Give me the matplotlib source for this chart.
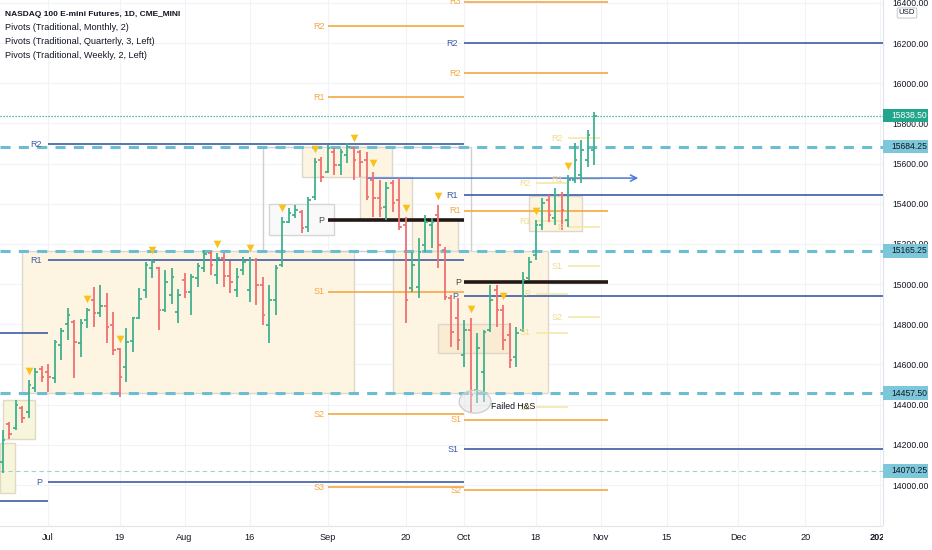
import numpy as np
import matplotlib.pyplot as plt
from matplotlib.patches import Rectangle, Ellipse
from matplotlib.transforms import blended_transform_factory

plt.rcParams['font.family'] = ['Liberation Sans', 'DejaVu Sans']

# daily bars, x = trading day index (0 = 1 Jul 2021)
bar_idx = np.arange(-7, 85)
opens = [14114, 14304, 14284, 14383, 14363, 14483, 14577, 14562, 14533, 14697,
         14801, 14811, 14707, 14821, 14921, 14856, 14891, 14796, 14677, 14587,
         14717, 14831, 14970, 15080, 15080, 14871, 14946, 14861, 15020, 14961,
         15030, 15080, 15155, 15045, 15130, 15040, 14970, 15070, 14970, 15120,
         14995, 14796, 14921, 15095, 15309, 15344, 15359, 15284, 15433, 15618,
         15558, 15657, 15593, 15642, 15677, 15657, 15618, 15518, 15428, 15384,
         15503, 15418, 15294, 14980, 14985, 15194, 15294, 15344, 15170, 14931,
         14831, 14647, 14771, 14473, 14562, 14771, 14970, 14871, 14747, 14637,
         14771, 15030, 15145, 15294, 15418, 15329, 15443, 15319, 15518, 15543,
         15618, 15667]
highs = [14274, 14314, 14423, 14393, 14523, 14582, 14592, 14602, 14722, 14781,
         14881, 14821, 14826, 14881, 14985, 14995, 14956, 14861, 14682, 14781,
         14836, 14980, 15110, 15125, 15085, 15070, 15080, 14976, 15055, 15050,
         15105, 15170, 15165, 15155, 15155, 15115, 15080, 15135, 15135, 15130,
         15035, 14995, 15095, 15334, 15379, 15394, 15369, 15433, 15628, 15633,
         15692, 15677, 15672, 15702, 15682, 15667, 15657, 15558, 15518, 15508,
         15518, 15528, 15334, 15160, 15229, 15344, 15329, 15394, 15185, 14946,
         14931, 14821, 14831, 14757, 14771, 14995, 14995, 14896, 14806, 14786,
         15060, 15135, 15319, 15428, 15443, 15478, 15458, 15543, 15702, 15717,
         15767, 15856]
lows = [14060, 14229, 14274, 14309, 14333, 14463, 14513, 14463, 14508, 14622,
        14722, 14533, 14637, 14781, 14786, 14836, 14707, 14647, 14438, 14513,
        14662, 14826, 14931, 15030, 14771, 14861, 14901, 14806, 14931, 14846,
        14985, 15060, 15045, 15000, 14985, 14956, 14936, 15045, 14911, 14896,
        14796, 14707, 14846, 15085, 15304, 15329, 15254, 15259, 15418, 15508,
        15553, 15543, 15543, 15603, 15518, 15533, 15418, 15334, 15334, 15319,
        15359, 15269, 14806, 14961, 14931, 15160, 15180, 15080, 14921, 14687,
        14672, 14587, 14363, 14408, 14413, 14761, 14786, 14672, 14582, 14587,
        14761, 15020, 15120, 15269, 15309, 15294, 15269, 15284, 15503, 15503,
        15583, 15593]
closes = [14224, 14254, 14398, 14333, 14498, 14562, 14538, 14538, 14712, 14766,
          14846, 14712, 14806, 14871, 14856, 14891, 14786, 14672, 14538, 14712,
          14831, 14926, 15095, 15110, 14871, 15010, 15035, 14946, 14961, 15035,
          15090, 15150, 15095, 15130, 15040, 15010, 15035, 15110, 15120, 14995,
          14846, 14921, 15080, 15309, 15354, 15369, 15279, 15418, 15608, 15533,
          15677, 15593, 15657, 15682, 15618, 15608, 15433, 15428, 15379, 15478,
          15404, 15284, 14921, 15095, 15160, 15309, 15309, 15194, 14936, 14761,
          14722, 14771, 14448, 14682, 14761, 14921, 14871, 14722, 14622, 14757,
          15020, 15110, 15294, 15404, 15344, 15443, 15369, 15518, 15618, 15667,
          15742, 15838.5]

# bars marked with a yellow triangle
signal_idx = [-3, 6, 11, 16, 26, 31, 36, 41, 47, 50, 55, 60, 65, 70, 75, 80]

date_pos = [0, 11, 21, 31, 43, 55, 64, 75, 85, 95.2, 106.15, 116.5, 128.0]
date_text = ['Jul', '19', 'Aug', '16', 'Sep', '20', 'Oct', '18', 'Nov', '15', 'Dec', '20', '2022']

# pivot levels
q2_levels = [14757, 13920]
q3_labels = ['R2', 'R1', 'P']
q3_levels = [15697, 15120, 14015]
q4_labels = ['R2', 'R1', 'P', 'S1']
q4_levels = [16200, 15443, 14941, 14177]
sep_labels = ['R2', 'R1', 'P', 'S1', 'S2', 'S3']
sep_levels = [16284, 15931, 15319, 14961, 14353, 13990]
oct_labels = ['R3', 'R2', 'R1', 'P', 'S1', 'S2']
oct_levels = [16405, 16050, 15366, 15010, 14324, 13975]
wk_labels = ['R2', 'R1', 'P', 'S1', 'S2']
wk1_levels = [15503, 15314, 14951, 14759, 14388]
wk2_levels = [15727, 15523, 15284, 15090, 14836]

key_levels = [15684.25, 15165.25, 14457.50]
last_price = 15838.50
low_level = 14070.25

# drawings: (start idx, end idx, top price, bottom price, kind)
boxes = [
    (-4, 47.1, 15165.25, 14457.5, 'cream'),
    (-7.4, -5.1, 14209, 13960, 'lime'),
    (-6.9, -2.0, 14423, 14229, 'lime'),
    (33, 65, 15684.25, 15165.25, 'frame'),
    (34, 44, 15399, 15244, 'grey'),
    (39.1, 52.9, 15684, 15533, 'cream'),
    (48, 56, 15533, 15324, 'cream'),
    (56, 63, 15324, 15165, 'cream'),
    (53.1, 76.9, 15165.25, 14457.5, 'cream'),
    (60, 71.1, 14801, 14657, 'cream2'),
    (74, 82.2, 15438, 15264, 'cream'),
]
box_style = {
    'cream': ('#fdf5e1', '#ddd8cc'),
    'cream2': ('#f9ecd2', '#e0d6c4'),
    'lime': ('#f7f5dc', '#dedbc0'),
    'frame': ('none', '#cfcfcf'),
    'grey': ('#f9f9f9', '#d6d6d6'),
}

GREEN = '#3fb18f'
RED = '#ef6f72'
NAVY = '#3d5ba6'
ORANGE = '#f5a742'
WEEK = '#f5e8a8'
TXT = '#131722'

fig = plt.figure(figsize=(9.32, 5.5), dpi=100)
ax = fig.add_axes([0, 24 / 550, 883 / 932, 526 / 550])
ax.set_xlim(-7.385, 128.46)
ax.set_ylim(13796, 16414.6)

for i0, i1, top, bot, kind in boxes:
    fc, ec = box_style[kind]
    ax.add_patch(Rectangle((i0, bot), i1 - i0, top - bot, fc=fc, ec=ec, lw=1.0, zorder=1))


def pivot_set(levels, labels, start, end, color, gap, lab_color=None, p_black=False, lw=1.2):
    for lev, lab in zip(levels, labels):
        if p_black and lab == 'P':
            ax.hlines(lev, start, end, colors='#231815', lw=2.6, zorder=3)
            tc = '#4a4a4a'
        else:
            ax.hlines(lev, start, end, colors=color, lw=lw, zorder=3)
            tc = lab_color or color
        ax.text(start - gap, lev, lab, ha='right', va='center', color=tc, fontsize=6.5, zorder=7)


ax.hlines(q2_levels, -7.4, 0, colors=NAVY, lw=1.2, zorder=3)
pivot_set(q3_levels, q3_labels, 0, 64, NAVY, 0.9)
pivot_set(q4_levels, q4_labels, 64, 128.5, NAVY, 0.9)
pivot_set(sep_levels, sep_labels, 43, 64, ORANGE, 0.45, p_black=True)
pivot_set(oct_levels, oct_labels, 64, 86.1, ORANGE, 0.45, p_black=True)
pivot_set(wk1_levels, wk_labels, 75, 80, WEEK, 0.8, lab_color='#f0dc8a')
pivot_set(wk2_levels, wk_labels, 80, 84.9, WEEK, 0.8, lab_color='#f0dc8a')

for lev in key_levels:
    ax.axhline(lev, color='#6cbdd4', lw=2.2, ls=(0, (3.3, 2.7)), zorder=4)
ax.axhline(last_price, color='#26a69a', lw=0.9, ls=(0, (1, 1.4)), zorder=4)
ax.axhline(low_level, color='#9fd3cc', lw=0.8, ls=(0, (4, 3)), zorder=4)

ax.annotate('', xy=(90.8, 15528), xytext=(49, 15528),
            arrowprops=dict(arrowstyle='->', color='#4a76d8', lw=1.1,
                            shrinkA=0, shrinkB=0, mutation_scale=11), zorder=4)

# OHLC bars
x = bar_idx
o = np.array(opens)
h = np.array(highs)
l = np.array(lows)
c = np.array(closes)
col = np.where(c >= o, GREEN, RED)
ax.vlines(x, l, h, colors=col, lw=1.3, zorder=5)
ax.hlines(o, x - 0.45, x, colors=col, lw=1.3, zorder=5)
ax.hlines(c, x, x + 0.45, colors=col, lw=1.3, zorder=5)

sig = np.array(signal_idx)
ax.scatter(sig, h[sig - bar_idx[0]] + 45, marker='v', s=30, color='#f7c21b', lw=0, zorder=6)

ax.add_patch(Ellipse((65.7, 14415), 4.9, 114, fc=(0.88, 0.88, 0.88, 0.45), ec='#cccccc', lw=0.9, zorder=6))
ax.text(68.2, 14393, 'Failed H&S', fontsize=6.3, va='center', color=TXT, zorder=7)

# axes styling
ax.set_xticks(date_pos)
ax.set_xticklabels(date_text)
ax.get_xticklabels()[-1].set_fontweight('bold')
ax.set_yticks(np.arange(14000, 16401, 200))
ax.yaxis.tick_right()
ax.yaxis.set_major_formatter(plt.FormatStrFormatter('%.2f'))
ax.tick_params(axis='both', length=0, labelsize=6.2, colors=TXT)
ax.tick_params(axis='y', pad=6.5)
ax.tick_params(axis='x', pad=5, labelsize=6.6)
ax.grid(True, color='#f1f3f7', lw=0.8)
ax.set_axisbelow(True)
for s in ['top', 'left']:
    ax.spines[s].set_visible(False)
for s in ['right', 'bottom']:
    ax.spines[s].set_color('#e0e3eb')

# price tags on the scale
tb = blended_transform_factory(ax.transAxes, ax.transData)
tags = [(last_price, '#22a68b', 'white')] + [(v, '#7cc7d9', TXT) for v in key_levels] + [(low_level, '#7cc7d9', TXT)]
for lev, fc, tc in tags:
    ax.add_patch(Rectangle((1.0, lev - 33), 45 / 883, 66, transform=tb, fc=fc, ec='none',
                           clip_on=False, zorder=10))
    ax.text(1.0 + 8 / 883, lev, f'{lev:.2f}', transform=tb, ha='left', va='center',
            fontsize=6.2, color=tc, clip_on=False, zorder=11)

fig.add_artist(Rectangle((883 / 932, 0), 49 / 932, 24 / 550, transform=fig.transFigure,
                         fc='white', ec='none', zorder=5))
fig.text(907 / 932, 1 - 13 / 550, 'USD', ha='center', va='center', fontsize=5.6, color=TXT,
         bbox=dict(boxstyle='round,pad=0.2', fc='white', ec='#b8bcc6', lw=0.6))

legend = ['Pivots (Traditional, Monthly, 2)',
          'Pivots (Traditional, Quarterly, 3, Left)',
          'Pivots (Traditional, Weekly, 2, Left)']
fig.text(5 / 932, 1 - 14 / 550, 'NASDAQ 100 E-mini Futures, 1D, CME_MINI', fontsize=6.0,
         fontweight='bold', va='center', color=TXT)
for k, t in enumerate(legend):
    fig.text(5 / 932, 1 - (28 + 14 * k) / 550, t, fontsize=6.6, va='center', color=TXT)

fig.savefig('out.png', dpi=100)
